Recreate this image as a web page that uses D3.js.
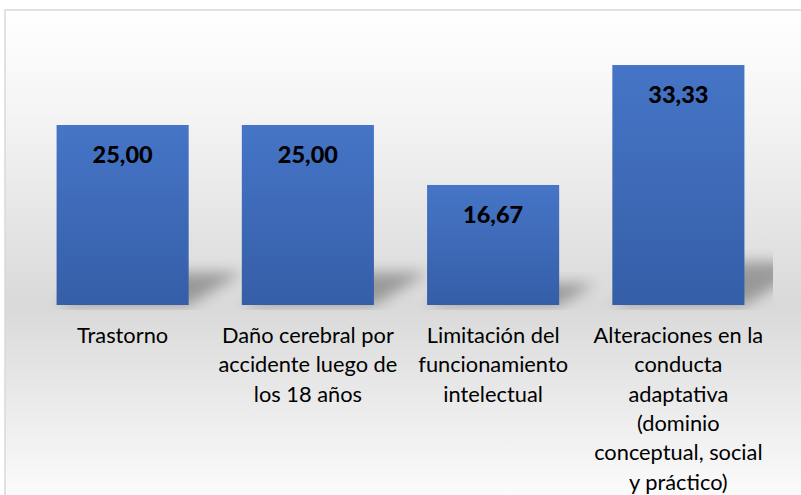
<!DOCTYPE html>
<html><head><meta charset="utf-8">
<script src="https://cdn.jsdelivr.net/npm/d3@7"></script>
<style>html,body{margin:0;padding:0;background:#fff}</style>
</head><body>
<script>
const categories = [
  ["Trastorno"],
  ["Daño cerebral por", "accidente luego de", "los 18 años"],
  ["Limitación del", "funcionamiento", "intelectual"],
  ["Alteraciones en la", "conducta", "adaptativa", "(dominio", "conceptual, social", "y práctico)"]
];
const values = [25.00, 25.00, 16.67, 33.33];
const valueLabels = ["25,00", "25,00", "16,67", "33,33"];

const W = 801, H = 495;
const svg = d3.select("body").append("svg").attr("width", W).attr("height", H);
const defs = svg.append("defs");

const bg = defs.append("linearGradient").attr("id","bg").attr("x1",0).attr("x2",0)
  .attr("gradientUnits","userSpaceOnUse").attr("y1",10).attr("y2",495);
bg.append("stop").attr("offset","0%").attr("stop-color","#ffffff");
bg.append("stop").attr("offset","20%").attr("stop-color","#f5f5f5");
bg.append("stop").attr("offset","61%").attr("stop-color","#d9d9d9");
bg.append("stop").attr("offset","100%").attr("stop-color","#fbfbfb");

const bar = defs.append("linearGradient").attr("id","bar").attr("x1",0).attr("y1",0).attr("x2",0).attr("y2",1);
bar.append("stop").attr("offset","0%").attr("stop-color","#4675c7");
bar.append("stop").attr("offset","100%").attr("stop-color","#355ea7");

const blur = defs.append("filter").attr("id","blur").attr("x","-50%").attr("y","-50%").attr("width","200%").attr("height","200%");
blur.append("feGaussianBlur").attr("stdDeviation", 7);

defs.append("clipPath").attr("id","plotclip").append("rect").attr("x",20).attr("y",10).attr("width",753).attr("height",300);

svg.append("rect").attr("x",5).attr("y",10).attr("width",W+10).attr("height",H)
  .attr("fill","url(#bg)").attr("stroke","#d9d9d9").attr("stroke-width",1.5);

const x = d3.scaleBand().domain(d3.range(categories.length)).range([30, 771]).paddingInner(0.287).paddingOuter(0.1435);
const y = d3.scaleLinear().domain([0, 35]).range([305, 53]);

// shadows
svg.append("g").attr("clip-path","url(#plotclip)").selectAll("path").data(values).join("path")
  .attr("d", (d,i) => {
    const x0 = x(i), x1 = x(i) + x.bandwidth(), h = y(0) - y(d);
    const dx = h*0.3, dy = h*0.18;
    return `M${x0},${y(0)} L${x1},${y(0)} L${x1+dx},${y(0)-dy} L${x0+dx},${y(0)-dy} Z`;
  })
  .attr("fill","#000").attr("opacity",0.3).attr("filter","url(#blur)");

svg.append("g").selectAll("rect").data(values).join("rect")
  .attr("x",(d,i)=>x(i)).attr("y",d=>y(d)).attr("width",x.bandwidth()).attr("height",d=>y(0)-y(d))
  .attr("fill","url(#bar)");

svg.append("g").selectAll("text").data(values).join("text")
  .attr("x",(d,i)=>x(i)+x.bandwidth()/2).attr("y",d=>y(d)+38)
  .attr("text-anchor","middle").attr("font-family","Lato").attr("font-weight","900")
  .attr("font-size",23.5).attr("fill","#000").text((d,i)=>valueLabels[i]);

const cg = svg.append("g").selectAll("text").data(categories).join("text")
  .attr("x",(d,i)=>x(i)+x.bandwidth()/2).attr("y",343)
  .attr("text-anchor","middle").attr("font-family","Lato").attr("font-size",21.8).attr("fill","#000");
cg.selectAll("tspan").data(d=>d).join("tspan")
  .attr("x",function(){return d3.select(this.parentNode).attr("x");})
  .attr("dy",(d,j)=>j===0?0:29.3).text(d=>d);
</script>
</body></html>
